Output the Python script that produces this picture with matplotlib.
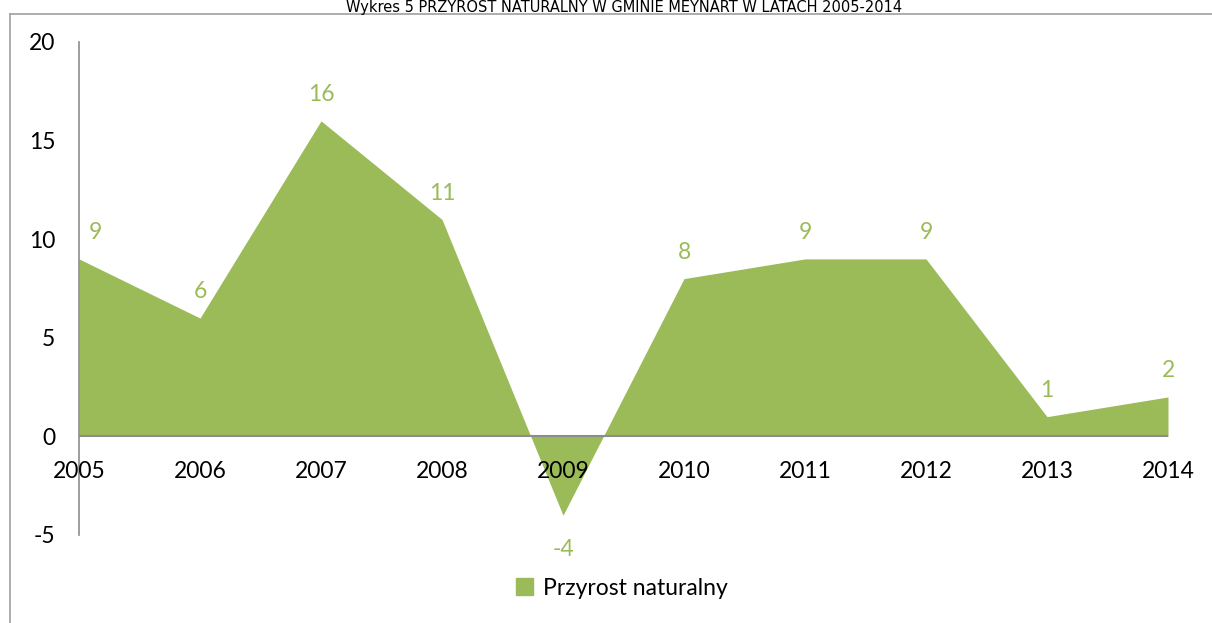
import matplotlib.pyplot as plt
from matplotlib.lines import Line2D
from matplotlib.patches import Patch

lata = [2005, 2006, 2007, 2008, 2009, 2010, 2011, 2012, 2013, 2014]
przyrost = [9, 6, 16, 11, -4, 8, 9, 9, 1, 2]
y_ticks = [-5, 0, 5, 10, 15, 20]

zielony = '#9BBB59'
szary = '#8C8C8C'
plt.rcParams['font.family'] = ['Lato', 'DejaVu Sans']

fig = plt.figure(figsize=(12.12, 6.23), dpi=100)
ax = fig.add_axes([0.0652, 0.1413, 0.8985, 0.7913])

ax.fill_between(lata, przyrost, 0, color=zielony, linewidth=0, zorder=2)
ax.axhline(0, color=szary, linewidth=1.5, zorder=3)

ax.set_xlim(lata[0], lata[-1])
ax.set_ylim(-5, 20)
ax.set_yticks(y_ticks)
ax.set_yticklabels([str(v) for v in y_ticks], fontsize=16.5)
ax.tick_params(axis='y', length=0, pad=17)
ax.set_xticks([])

for s in ['top', 'right', 'bottom']:
    ax.spines[s].set_visible(False)
ax.spines['left'].set_color(szary)
ax.spines['left'].set_linewidth(1.2)

# etykiety lat pod linia zera
for rok in lata:
    ax.annotate(str(rok), (rok, 0), xytext=(0, -25), textcoords='offset points',
                ha='center', va='center', fontsize=16.5, color='black', zorder=4)

# etykiety danych
for rok, v in zip(lata, przyrost):
    dx = 12 if rok == lata[0] else 0
    if v >= 0:
        ax.annotate(str(v), (rok, v), xytext=(dx, 19), textcoords='offset points',
                    ha='center', va='center', fontsize=16.5, color=zielony, zorder=4)
    else:
        ax.annotate(str(v), (rok, v), xytext=(dx, -25), textcoords='offset points',
                    ha='center', va='center', fontsize=16.5, color=zielony, zorder=4)

leg = fig.legend(handles=[Patch(color=zielony, label='Przyrost naturalny')],
                 loc='center', bbox_to_anchor=(0.513, 0.056), frameon=False,
                 fontsize=16.5, handlelength=0.75, handleheight=0.75, handletextpad=0.4)

fig.text(0.515, 1 - 15 / 623, 'Wykres 5 PRZYROST NATURALNY W GMINIE MEYNART W LATACH 2005-2014',
         ha='center', va='bottom', fontsize=10.5, family=['DejaVu Sans'])

# ramka wykresu
fig.add_artist(Line2D([10 / 1212, 1], [1 - 14 / 623] * 2, transform=fig.transFigure,
                      color='#A0A0A0', linewidth=1.2))
fig.add_artist(Line2D([10 / 1212] * 2, [0, 1 - 14 / 623], transform=fig.transFigure,
                      color='#A0A0A0', linewidth=1.2))

fig.savefig('out.png', dpi=100)
